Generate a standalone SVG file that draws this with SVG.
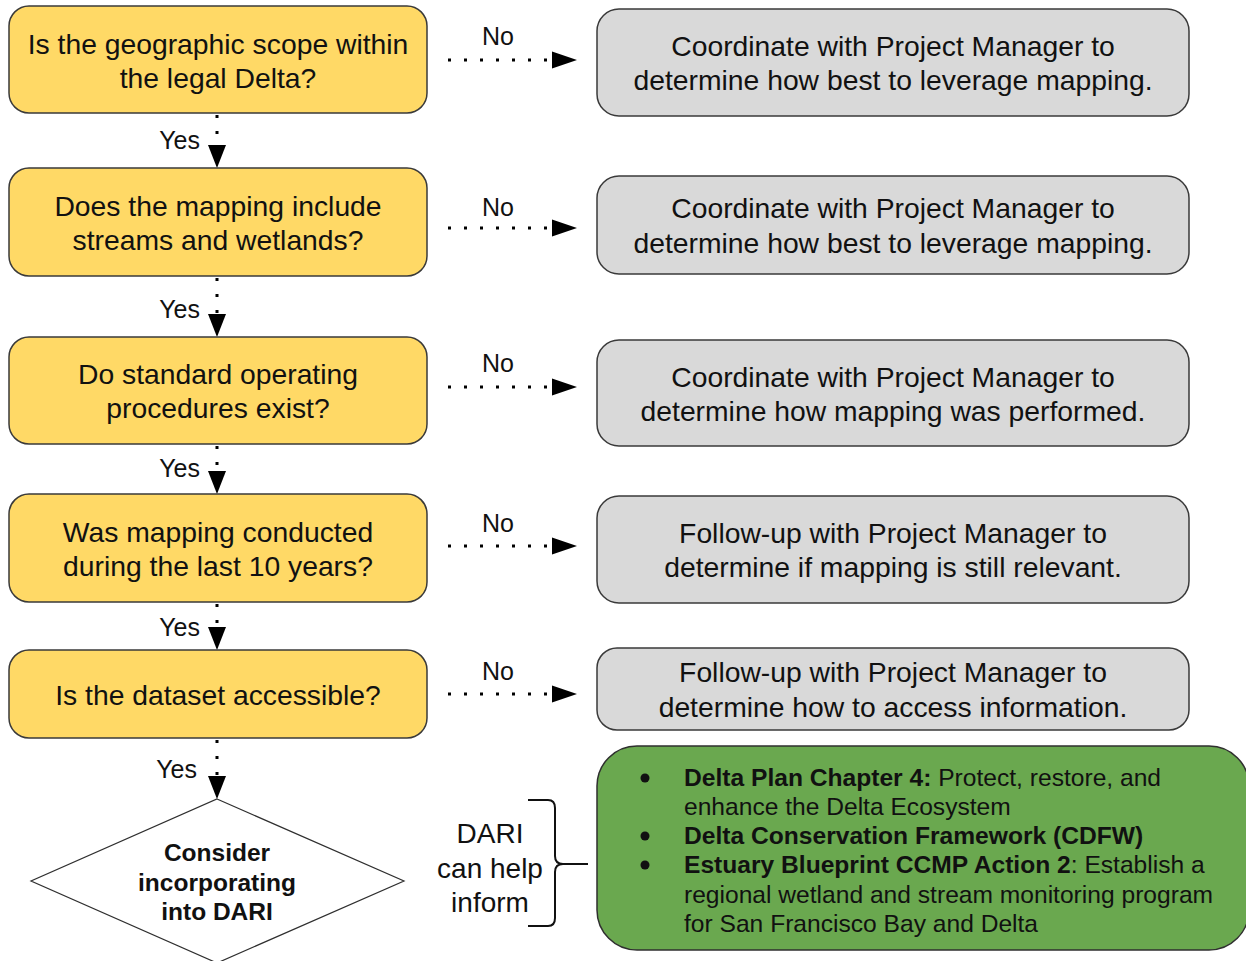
<svg xmlns="http://www.w3.org/2000/svg" width="1246" height="961" viewBox="0 0 1246 961">
<defs>
<style>
.q{fill:#ffd966;stroke:#3a3a3a;stroke-width:1.5}
.a{fill:#d9d9d9;stroke:#3a3a3a;stroke-width:1.5}
.g{fill:#6aa84f;stroke:#2f2f2f;stroke-width:1.5}
.d{fill:#ffffff;stroke:#2f2f2f;stroke-width:1.2}
.t{font-family:"Liberation Sans",Arial,sans-serif;fill:#111;text-anchor:middle}
.big{font-size:28.3px}
.gt{font-family:"Liberation Sans",Arial,sans-serif;fill:#111;font-size:24.6px}
.lbl{font-family:"Liberation Sans",Arial,sans-serif;fill:#111;font-size:25px}
.b{font-weight:bold}
.con{stroke:#000;stroke-width:3;fill:none;stroke-dasharray:3 13}
</style>
<path id="hh" d="M0,-8.5 L25,0 L0,8.5 Z"/>
<path id="vh" d="M-9,0 L9,0 L0,23 Z"/>
</defs>

<g id="connectors">
<line class="con" x1="448" y1="60" x2="552" y2="60"/><use href="#hh" x="552" y="60" fill="#000"/>
<line class="con" x1="448" y1="228" x2="552" y2="228"/><use href="#hh" x="552" y="228" fill="#000"/>
<line class="con" x1="448" y1="387" x2="552" y2="387"/><use href="#hh" x="552" y="387" fill="#000"/>
<line class="con" x1="448" y1="546" x2="552" y2="546"/><use href="#hh" x="552" y="546" fill="#000"/>
<line class="con" x1="448" y1="694" x2="552" y2="694"/><use href="#hh" x="552" y="694" fill="#000"/>
<line class="con" x1="217" y1="115" x2="217" y2="145"/><use href="#vh" x="217" y="145" fill="#000"/>
<line class="con" x1="217" y1="278" x2="217" y2="314"/><use href="#vh" x="217" y="314" fill="#000"/>
<line class="con" x1="217" y1="446" x2="217" y2="471"/><use href="#vh" x="217" y="471" fill="#000"/>
<line class="con" x1="217" y1="604" x2="217" y2="627"/><use href="#vh" x="217" y="627" fill="#000"/>
<line class="con" x1="217" y1="740" x2="217" y2="776"/><use href="#vh" x="217" y="776" fill="#000"/>
<text class="lbl" x="498" y="45" text-anchor="middle">No</text>
<text class="lbl" x="498" y="216" text-anchor="middle">No</text>
<text class="lbl" x="498" y="372" text-anchor="middle">No</text>
<text class="lbl" x="498" y="532" text-anchor="middle">No</text>
<text class="lbl" x="498" y="680" text-anchor="middle">No</text>
<text class="lbl" x="200" y="149" text-anchor="end">Yes</text>
<text class="lbl" x="200" y="318" text-anchor="end">Yes</text>
<text class="lbl" x="200" y="477" text-anchor="end">Yes</text>
<text class="lbl" x="200" y="636" text-anchor="end">Yes</text>
<text class="lbl" x="197" y="778" text-anchor="end">Yes</text>
</g>

<g id="q1"><rect class="q" x="9" y="6" width="418" height="107" rx="20"/>
<text class="t big" x="218" y="54">Is the geographic scope within</text>
<text class="t big" x="218" y="88">the legal Delta?</text></g>
<g id="q2"><rect class="q" x="9" y="168" width="418" height="108" rx="20"/>
<text class="t big" x="218" y="216">Does the mapping include</text>
<text class="t big" x="218" y="250">streams and wetlands?</text></g>
<g id="q3"><rect class="q" x="9" y="337" width="418" height="107" rx="20"/>
<text class="t big" x="218" y="384">Do standard operating</text>
<text class="t big" x="218" y="418">procedures exist?</text></g>
<g id="q4"><rect class="q" x="9" y="494" width="418" height="108" rx="20"/>
<text class="t big" x="218" y="542">Was mapping conducted</text>
<text class="t big" x="218" y="576">during the last 10 years?</text></g>
<g id="q5"><rect class="q" x="9" y="650" width="418" height="88" rx="20"/>
<text class="t big" x="218" y="705">Is the dataset accessible?</text></g>

<g id="a1"><rect class="a" x="597" y="9" width="592" height="107" rx="22"/>
<text class="t big" x="893" y="56">Coordinate with Project Manager to</text>
<text class="t big" x="893" y="90">determine how best to leverage mapping.</text></g>
<g id="a2"><rect class="a" x="597" y="176" width="592" height="98" rx="22"/>
<text class="t big" x="893" y="218">Coordinate with Project Manager to</text>
<text class="t big" x="893" y="253">determine how best to leverage mapping.</text></g>
<g id="a3"><rect class="a" x="597" y="340" width="592" height="106" rx="22"/>
<text class="t big" x="893" y="387">Coordinate with Project Manager to</text>
<text class="t big" x="893" y="421">determine how mapping was performed.</text></g>
<g id="a4"><rect class="a" x="597" y="496" width="592" height="107" rx="22"/>
<text class="t big" x="893" y="543">Follow-up with Project Manager to</text>
<text class="t big" x="893" y="577">determine if mapping is still relevant.</text></g>
<g id="a5"><rect class="a" x="597" y="648" width="592" height="82" rx="20"/>
<text class="t big" x="893" y="682">Follow-up with Project Manager to</text>
<text class="t big" x="893" y="717">determine how to access information.</text></g>

<g id="dari">
<polygon class="d" points="217,799 404,881 217,963 31,881"/>
<text class="t b" style="font-size:24.5px" x="217" y="861">Consider</text>
<text class="t b" style="font-size:24.5px" x="217" y="891">incorporating</text>
<text class="t b" style="font-size:24.5px" x="217" y="920">into DARI</text>
</g>

<g id="brace">
<text class="t" style="font-size:28px" x="490" y="843">DARI</text>
<text class="t" style="font-size:28px" x="490" y="878">can help</text>
<text class="t" style="font-size:28px" x="490" y="912">inform</text>
<path d="M528,800 L548,800 Q555,800 555,808 L555,856 Q555,864 563,864 L588,864 M563,864 Q555,864 555,872 L555,918 Q555,926 548,926 L528,926" fill="none" stroke="#111" stroke-width="2"/>
</g>

<g id="refs">
<rect class="g" x="597" y="746" width="652" height="204" rx="40"/>
<circle cx="645" cy="778" r="4.5" fill="#111"/>
<circle cx="645" cy="836" r="4.5" fill="#111"/>
<circle cx="645" cy="865" r="4.5" fill="#111"/>
<text class="gt" x="684" y="786"><tspan class="b">Delta Plan Chapter 4:</tspan> Protect, restore, and</text>
<text class="gt" x="684" y="815">enhance the Delta Ecosystem</text>
<text class="gt b" x="684" y="844">Delta Conservation Framework (CDFW)</text>
<text class="gt" x="684" y="873"><tspan class="b">Estuary Blueprint CCMP Action 2</tspan>: Establish a</text>
<text class="gt" x="684" y="903">regional wetland and stream monitoring program</text>
<text class="gt" x="684" y="932">for San Francisco Bay and Delta</text>
</g>
</svg>
